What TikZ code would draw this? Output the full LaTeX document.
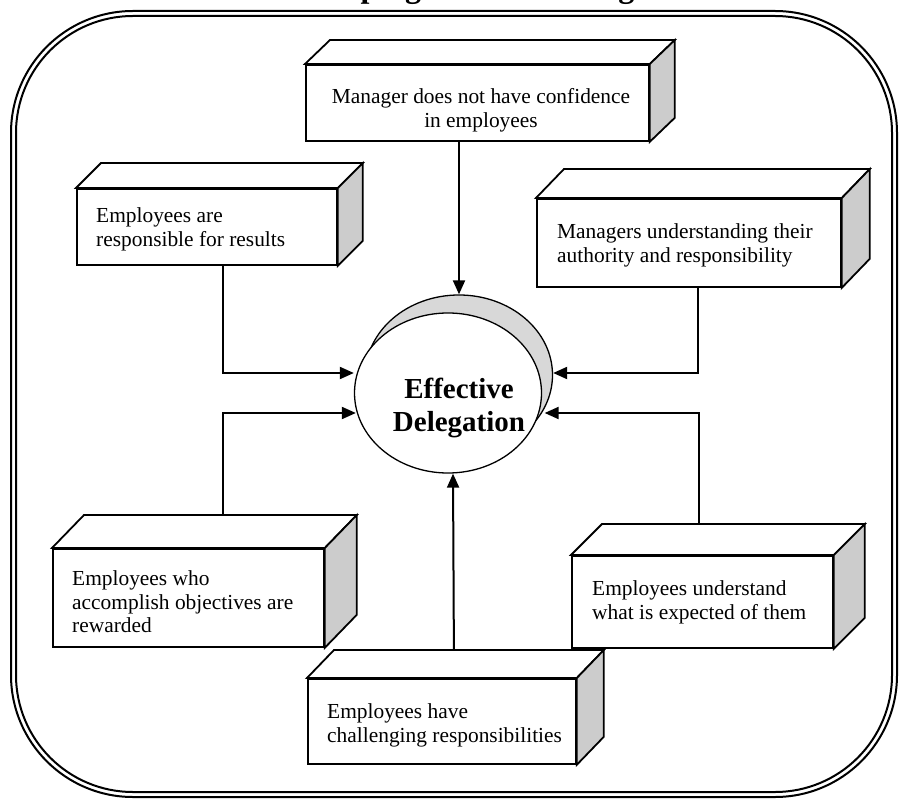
\documentclass[tikz,border=0pt]{standalone}
\usepackage{fontspec}
\setmainfont{Liberation Serif}
\usetikzlibrary{arrows.meta,shapes.geometric}
\definecolor{sidegray}{RGB}{204,204,204}
\definecolor{shadowgray}{RGB}{216,216,216}
\tikzset{
  frameline/.style={line width=2pt},
  boxline/.style={line width=1.8pt},
  face/.style={boxline, draw, fill=white, rectangle, anchor=north west, inner sep=0pt},
  boxtext/.style={anchor=north west, inner sep=0pt, align=left, font=\fontsize{21.4}{23.5}\selectfont},
  link/.style={line width=2pt, -{Triangle[length=14pt,width=12pt]}},
  oval/.style={ellipse, draw, line width=1.3pt, minimum width=187pt, minimum height=160pt, inner sep=0pt},
}
% top and side faces of a 3-D box standing behind face node #1, depth (#2,#3)
\newcommand\depthbox[3]{%
  \draw[boxline, fill=white] (#1.north west) -- ++(#2,-#3) -- ([shift={(#2,-#3)}]#1.north east) -- (#1.north east) -- cycle;
  \draw[boxline, fill=sidegray] (#1.north east) -- ++(#2,-#3) -- ([shift={(#2,-#3)}]#1.south east) -- (#1.south east) -- cycle;}
\begin{document}
\begin{tikzpicture}[x=1pt,y=-1pt]
\useasboundingbox (0,0) rectangle (899,799);
\begin{scope}
  \clip (0,0) rectangle (899,799);
  \node[anchor=base west, inner sep=0pt, font=\bfseries\fontsize{32}{36}\selectfont] (title) at (268,-2.5) {Developing Effective Delegation};
\end{scope}

% double rounded frame
\draw[frameline, rounded corners=122pt] (11,11) rectangle (897,797);
\draw[frameline, rounded corners=117pt] (16,16) rectangle (892,792);

% central ellipse with its shadow
\node[oval, fill=shadowgray] (EDs) at (459,375) {};
\node[oval, fill=white] (ED) at (448,393) {};
\node[anchor=north, inner sep=0pt, align=center, font=\bfseries\fontsize{29}{33}\selectfont] (EDt) at (459,377.5) {Effective\\Delegation};

% boxes
\node[face, minimum width=343pt, minimum height=76pt] (T) at (305,64) {};
\depthbox{T}{25}{24}
\node[boxtext, anchor=north, align=center] (tT) at (481,88.7) {Manager does not have confidence\\in employees};

\node[face, minimum width=260pt, minimum height=76pt] (A) at (76,188) {};
\depthbox{A}{25}{25}
\node[boxtext] (tA) at (96,207.7) {Employees are\\responsible for results};

\node[face, minimum width=304pt, minimum height=88pt] (B) at (536,198) {};
\depthbox{B}{28}{29}
\node[boxtext] (tB) at (557,223.7) {Managers understanding their\\authority and responsibility};

\node[face, minimum width=271pt, minimum height=98pt] (C) at (52,548) {};
\depthbox{C}{32}{33}
\node[boxtext] (tC) at (72,570.7) {Employees who\\accomplish objectives are\\rewarded};

\node[face, minimum width=261pt, minimum height=92pt] (D) at (571,555) {};
\depthbox{D}{31}{31}
\node[boxtext] (tD) at (592,580.7) {Employees understand\\what is expected of them};

\node[face, minimum width=268pt, minimum height=85pt] (E) at (307,678) {};
\depthbox{E}{27}{28}
\node[boxtext] (tE) at (327,703.7) {Employees have\\challenging responsibilities};

% connectors into the ellipse
\draw[link] (EDs.north |- T.south) -- (EDs.north);
\draw[link] ([xshift=16pt]A.south) |- ([yshift=20pt]ED.west);
\draw[link] ([xshift=34.5pt,yshift=33pt]C.north) |- ([xshift=2pt,yshift=-20pt]ED.west);
\draw[link] ([xshift=9pt]B.south) |- ([yshift=2pt]EDs.east);
\draw[link] ([xshift=-3.5pt,yshift=31pt]D.north) |- ([xshift=2.5pt,yshift=-20pt]ED.east);
\draw[link] ([xshift=12pt,yshift=28pt]E.north) -- ([xshift=5pt]ED.south);
\end{tikzpicture}
\end{document}
